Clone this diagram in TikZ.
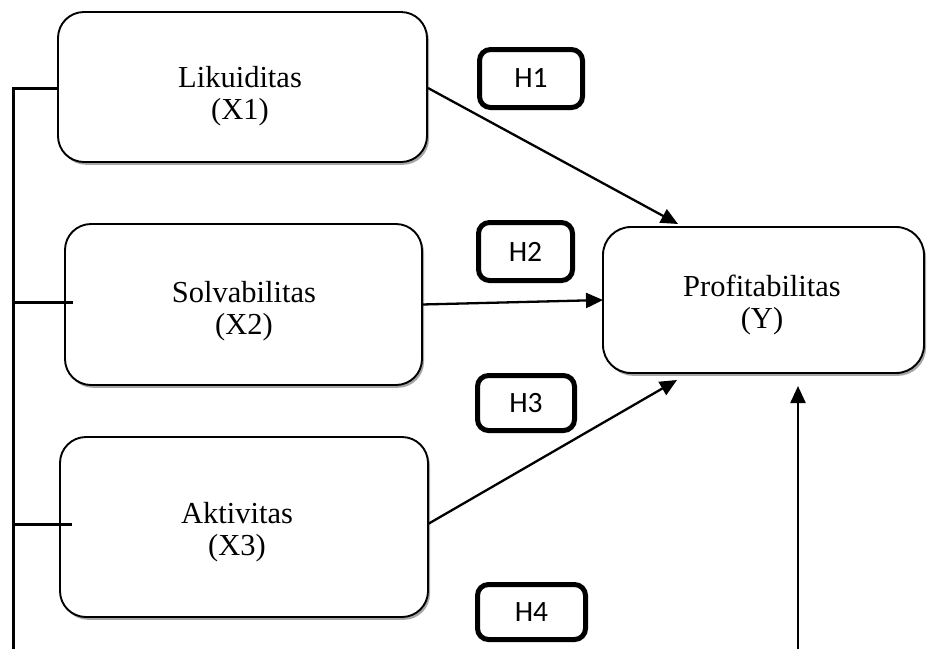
\documentclass[tikz,border=0pt]{standalone}
\usepackage{fontspec}
\setmainfont{Liberation Serif}
\newfontfamily\hfont{Carlito}
\usetikzlibrary{shadows,arrows.meta}
\begin{document}
\begin{tikzpicture}[x=1pt,y=-1pt,
  varbox/.style={draw=black, line width=1.9pt, fill=white, rounded corners=26pt,
    general shadow={shadow xshift=2pt, shadow yshift=-2.8pt, fill=black!35},
    inner sep=0pt, outer sep=0pt},
  varlbl/.style={align=center, font=\fontsize{30.5}{31.5}\selectfont, inner sep=0pt},
  hbox/.style={draw=black, line width=5pt, rounded corners=11pt, inner sep=0pt,
    font=\hfont\fontsize{29.5}{30}\selectfont},
  arr/.style={line width=2.3pt, -{Triangle[length=17pt,width=15pt]}},
  bus/.style={line width=3pt}
]
\useasboundingbox (0,0) rectangle (928,649);

% variable boxes
\node[varbox, minimum width=369pt, minimum height=150pt] (x1) at (242.5,87) {};
\node[varbox, minimum width=357pt, minimum height=161pt] (x2) at (243.5,304.5) {};
\node[varbox, minimum width=368pt, minimum height=180pt] (x3) at (244,527) {};
\node[varbox, minimum width=321pt, minimum height=146pt, rounded corners=28pt] (prof) at (763.5,300) {};

\node[varlbl] (t1) at (240,96) {Likuiditas\\(X1)};
\node[varlbl] (t2) at (244,311) {Solvabilitas\\(X2)};
\node[varlbl] (t3) at (237,532) {Aktivitas\\(X3)};
\node[varlbl] (ty) at (762,305) {Profitabilitas\\(Y)};

% hypothesis boxes
\node[hbox, minimum width=103pt, minimum height=58pt] (h1) at (531,78.5) {H1};
\node[hbox, minimum width=94pt, minimum height=58pt] (h2) at (525.5,251.5) {H2};
\node[hbox, minimum width=97pt, minimum height=55pt] (h3) at (526,403) {H3};
\node[hbox, minimum width=108pt, minimum height=55pt] (h4) at (531.5,612) {H4};

% arrow end points
\coordinate (p1) at (678,224);
\coordinate (p3) at (677,380);
\coordinate (b0) at (798,649);
\coordinate (b1) at (798,386);
\coordinate (s1) at (428,88);
\coordinate (s3) at (428,524);

\draw[arr] (s1) -- (p1);
\draw[arr] (x2.east) -- (prof.west);
\draw[arr] (s3) -- (p3);
\draw[arr] (b0) -- (b1);

% left bus
\coordinate (l0) at (13,88);
\coordinate (l1) at (13,649);
\coordinate (k2) at (13,302);
\coordinate (e2) at (73,302);
\coordinate (k3) at (13,524);
\coordinate (e3) at (72,524);
\draw[bus] (x1.west |- l0) -- (l0) -- (l1);
\draw[bus] (k2) -- (e2);
\draw[bus] (k3) -- (e3);
\end{tikzpicture}
\end{document}
